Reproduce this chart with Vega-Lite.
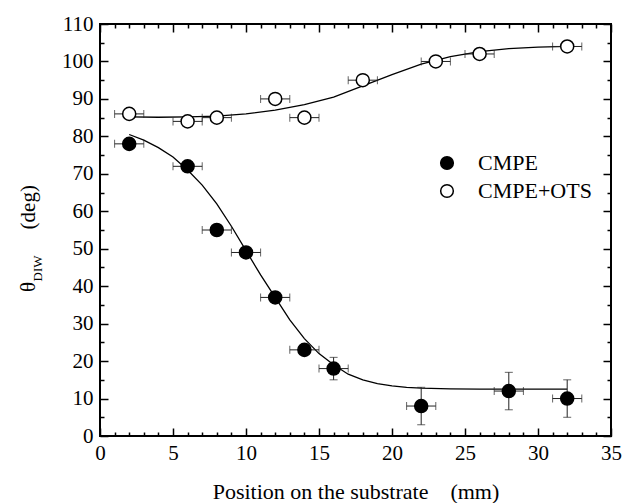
{
  "$schema": "https://vega.github.io/schema/vega-lite/v6.json",
  "width": 511,
  "height": 412,
  "autosize": {"type": "none"},
  "padding": {"left": 100, "top": 24, "right": 12, "bottom": 67},
  "background": "white",
  "config": {
    "view": {"stroke": "black", "strokeWidth": 2},
    "font": "Liberation Serif, Times New Roman, serif",
    "axis": {"grid": false, "domain": false, "tickColor": "black", "labelColor": "black", "titleColor": "black", "labelFont": "Liberation Serif, Times New Roman, serif", "titleFont": "Liberation Serif, Times New Roman, serif", "titleFontWeight": "normal", "tickWidth": 1.5},
    "legend": {"labelFont": "Liberation Serif, Times New Roman, serif"}
  },
  "datasets": {
    "pts": [
      {"series": "CMPE", "x": 2, "y": 78, "xlo": 1, "xhi": 3},
      {"series": "CMPE", "x": 6, "y": 72, "xlo": 5, "xhi": 7},
      {"series": "CMPE", "x": 8, "y": 55, "xlo": 7, "xhi": 9},
      {"series": "CMPE", "x": 10, "y": 49, "xlo": 9, "xhi": 11},
      {"series": "CMPE", "x": 12, "y": 37, "xlo": 11, "xhi": 13},
      {"series": "CMPE", "x": 14, "y": 23, "xlo": 13, "xhi": 15},
      {"series": "CMPE", "x": 16, "y": 18, "xlo": 15, "xhi": 17, "ylo": 15, "yhi": 21},
      {"series": "CMPE", "x": 22, "y": 8, "xlo": 21, "xhi": 23, "ylo": 3, "yhi": 13},
      {"series": "CMPE", "x": 28, "y": 12, "xlo": 27, "xhi": 29, "ylo": 7, "yhi": 17},
      {"series": "CMPE", "x": 32, "y": 10, "xlo": 31, "xhi": 33, "ylo": 5, "yhi": 15},
      {"series": "CMPE+OTS", "x": 2, "y": 86, "xlo": 1, "xhi": 3},
      {"series": "CMPE+OTS", "x": 6, "y": 84, "xlo": 5, "xhi": 7},
      {"series": "CMPE+OTS", "x": 8, "y": 85, "xlo": 7, "xhi": 9},
      {"series": "CMPE+OTS", "x": 12, "y": 90, "xlo": 11, "xhi": 13},
      {"series": "CMPE+OTS", "x": 14, "y": 85, "xlo": 13, "xhi": 15},
      {"series": "CMPE+OTS", "x": 18, "y": 95, "xlo": 17, "xhi": 19},
      {"series": "CMPE+OTS", "x": 23, "y": 100, "xlo": 22, "xhi": 24},
      {"series": "CMPE+OTS", "x": 26, "y": 102, "xlo": 25, "xhi": 27},
      {"series": "CMPE+OTS", "x": 32, "y": 104, "xlo": 31, "xhi": 33}
    ],
    "curves": [
      {"series": "CMPE", "x": 2, "y": 80.5},
      {"series": "CMPE", "x": 3, "y": 79},
      {"series": "CMPE", "x": 4, "y": 77},
      {"series": "CMPE", "x": 5, "y": 74.5},
      {"series": "CMPE", "x": 6, "y": 71},
      {"series": "CMPE", "x": 7, "y": 67},
      {"series": "CMPE", "x": 8, "y": 62},
      {"series": "CMPE", "x": 9, "y": 56},
      {"series": "CMPE", "x": 10, "y": 49.5},
      {"series": "CMPE", "x": 11, "y": 43},
      {"series": "CMPE", "x": 12, "y": 37},
      {"series": "CMPE", "x": 13, "y": 31},
      {"series": "CMPE", "x": 14, "y": 26},
      {"series": "CMPE", "x": 15, "y": 22},
      {"series": "CMPE", "x": 16, "y": 19},
      {"series": "CMPE", "x": 17, "y": 16.5},
      {"series": "CMPE", "x": 18, "y": 15},
      {"series": "CMPE", "x": 19, "y": 14},
      {"series": "CMPE", "x": 20, "y": 13.4},
      {"series": "CMPE", "x": 21, "y": 13},
      {"series": "CMPE", "x": 22, "y": 12.8},
      {"series": "CMPE", "x": 24, "y": 12.6},
      {"series": "CMPE", "x": 26, "y": 12.5},
      {"series": "CMPE", "x": 28, "y": 12.5},
      {"series": "CMPE", "x": 32, "y": 12.5},
      {"series": "CMPE+OTS", "x": 2, "y": 85.2},
      {"series": "CMPE+OTS", "x": 4, "y": 85.1},
      {"series": "CMPE+OTS", "x": 6, "y": 85.2},
      {"series": "CMPE+OTS", "x": 8, "y": 85.4},
      {"series": "CMPE+OTS", "x": 10, "y": 86},
      {"series": "CMPE+OTS", "x": 12, "y": 87},
      {"series": "CMPE+OTS", "x": 14, "y": 88.5},
      {"series": "CMPE+OTS", "x": 16, "y": 90.5},
      {"series": "CMPE+OTS", "x": 18, "y": 93.5},
      {"series": "CMPE+OTS", "x": 20, "y": 96.5},
      {"series": "CMPE+OTS", "x": 22, "y": 99.3},
      {"series": "CMPE+OTS", "x": 24, "y": 101.3},
      {"series": "CMPE+OTS", "x": 26, "y": 102.6},
      {"series": "CMPE+OTS", "x": 28, "y": 103.4},
      {"series": "CMPE+OTS", "x": 30, "y": 103.8},
      {"series": "CMPE+OTS", "x": 32, "y": 104}
    ]
  },
  "resolve": {"axis": {"x": "independent", "y": "independent"}},
  "layer": [
    {
      "data": {"name": "curves"},
      "transform": [{"filter": "datum.series == 'CMPE'"}],
      "mark": {"type": "line", "color": "black", "strokeWidth": 1.3},
      "encoding": {
        "x": {"field": "x", "type": "quantitative", "scale": {"domain": [0, 35], "nice": false},
          "axis": {"orient": "bottom", "values": [0, 5, 10, 15, 20, 25, 30, 35], "ticks": false, "labelPadding": 6, "labelFontSize": 21, "labelFlush": false,
            "title": "Position on the substrate\u00a0\u00a0\u00a0\u00a0(mm)", "titleFontSize": 22, "titlePadding": 18}},
        "y": {"field": "y", "type": "quantitative", "scale": {"domain": [0, 110], "nice": false},
          "axis": {"orient": "left", "values": [0, 10, 20, 30, 40, 50, 60, 70, 80, 90, 100, 110], "ticks": false, "labelPadding": 7, "labelFontSize": 21, "labelFlush": false, "title": null}}
      }
    },
    {
      "data": {"name": "curves"},
      "transform": [{"filter": "datum.series == 'CMPE+OTS'"}],
      "mark": {"type": "line", "color": "black", "strokeWidth": 1.3},
      "encoding": {
        "x": {"field": "x", "type": "quantitative", "axis": {"orient": "bottom", "offset": -8, "values": [0, 5, 10, 15, 20, 25, 30, 35], "tickSize": 8, "labels": false, "title": null}},
        "y": {"field": "y", "type": "quantitative", "axis": {"orient": "left", "offset": -8, "values": [0, 10, 20, 30, 40, 50, 60, 70, 80, 90, 100, 110], "tickSize": 8, "labels": false,
          "title": "θ\u00a0\u00a0\u00a0\u00a0\u00a0\u00a0\u00a0\u00a0\u00a0\u00a0(deg)", "titleFontSize": 21, "titleAngle": -90, "titleAlign": "center", "titleBaseline": "middle", "titleX": -80, "titleY": 214}}
      }
    },
    {
      "data": {"name": "pts"},
      "mark": {"type": "errorbar", "ticks": {"size": 8}, "thickness": 1},
      "encoding": {
        "x": {"field": "xlo", "type": "quantitative", "axis": {"orient": "top", "offset": -8, "values": [0, 5, 10, 15, 20, 25, 30, 35], "tickSize": 8, "labels": false, "title": null}},
        "x2": {"field": "xhi"},
        "y": {"field": "y", "type": "quantitative", "axis": {"orient": "right", "offset": -8, "values": [0, 10, 20, 30, 40, 50, 60, 70, 80, 90, 100, 110], "tickSize": 8, "labels": false, "title": null}},
        "color": {"value": "#222"}
      }
    },
    {
      "data": {"name": "pts"},
      "transform": [{"filter": "isValid(datum.ylo)"}],
      "mark": {"type": "errorbar", "ticks": {"size": 8}, "thickness": 1},
      "encoding": {
        "x": {"field": "x", "type": "quantitative", "axis": {"orient": "bottom", "offset": -4, "values": [1,2,3,4,6,7,8,9,11,12,13,14,16,17,18,19,21,22,23,24,26,27,28,29,31,32,33,34], "tickSize": 4, "labels": false, "title": null}},
        "y": {"field": "ylo", "type": "quantitative", "axis": {"orient": "left", "offset": -4, "values": [5, 15, 25, 35, 45, 55, 65, 75, 85, 95, 105], "tickSize": 4, "labels": false,
          "title": "DIW", "titleFontSize": 13, "titleAngle": -90, "titleAlign": "center", "titleBaseline": "middle", "titleX": -67, "titleY": 244}},
        "y2": {"field": "yhi"},
        "color": {"value": "#222"}
      }
    },
    {
      "data": {"name": "pts"},
      "mark": {"type": "point", "shape": "circle", "filled": true, "stroke": "black", "strokeWidth": 1.5, "size": 170, "opacity": 1},
      "encoding": {
        "x": {"field": "x", "type": "quantitative", "axis": {"orient": "top", "offset": -4, "values": [1,2,3,4,6,7,8,9,11,12,13,14,16,17,18,19,21,22,23,24,26,27,28,29,31,32,33,34], "tickSize": 4, "labels": false, "title": null}},
        "y": {"field": "y", "type": "quantitative", "axis": {"orient": "right", "offset": -4, "values": [5, 15, 25, 35, 45, 55, 65, 75, 85, 95, 105], "tickSize": 4, "labels": false, "title": null}},
        "fill": {"field": "series", "type": "nominal", "scale": {"domain": ["CMPE", "CMPE+OTS"], "range": ["black", "white"]},
          "legend": {"title": null, "orient": "none", "legendX": 336, "legendY": 128, "symbolSize": 160, "symbolStrokeColor": "black", "symbolStrokeWidth": 1.5, "symbolType": "circle", "labelFont": "Liberation Serif, Times New Roman, serif", "labelFontSize": 22, "labelColor": "black", "labelOffset": 20, "rowPadding": 6}}
      }
    }
  ]
}
